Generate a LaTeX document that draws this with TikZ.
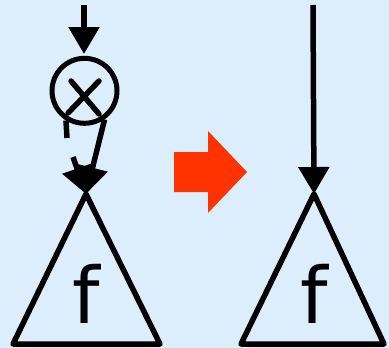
\documentclass[tikz,border=0pt]{standalone}
\usepackage{fontspec}
\setmainfont{DejaVu Sans}
\usetikzlibrary{arrows.meta}
\definecolor{bg}{RGB}{220,238,252}
\definecolor{redarrow}{RGB}{255,51,0}
\begin{document}
\begin{tikzpicture}[x=1pt,y=-1pt,
  wire/.style={line width=5.5pt},
  arr/.style={-{Triangle[length=27pt,width=30pt]}},
  tri/.style={line width=5.5pt, line join=round},
  lbl/.style={font=\fontsize{78}{78}\selectfont, inner sep=0pt},
  mulnode/.style={circle, draw, line width=5pt, minimum size=65pt, inner sep=0pt}]
\fill[bg] (0,0) rectangle (389,348);
\useasboundingbox (0,0) rectangle (389,348);

% left side
\node[mulnode] (mul) at (84.5,90.8) {};
\draw[line width=5.5pt, line cap=round] (71,81) -- (99,114) (99,81) -- (68,113);
\coordinate (inA) at (84,5);
\coordinate (tipA) at (84,54);
\draw[wire, arr] (inA) -- (tipA);

\coordinate (apexL) at (86,194);
\coordinate (gapA) at (67,138);
\coordinate (gapB) at (73,157);
\draw[wire] (mul.-122) -- (gapA);
\draw[wire, arr] (gapB) -- (apexL);
\draw[wire, arr] (mul.-55) -- (apexL);

\coordinate (blL) at (13,344);
\coordinate (brL) at (160,344);
\draw[tri] (apexL) -- (blL) -- (brL) -- cycle;
\node[lbl] (fL) at (86,294) {f};

% red arrow
\fill[redarrow] (174,152) -- (208,152) -- (208,131) -- (247,172) -- (208,213) -- (208,192) -- (174,192) -- cycle;

% right side
\coordinate (inB) at (313,5);
\coordinate (apexR) at (314,194);
\draw[wire, arr] (inB) -- (apexR);
\coordinate (blR) at (241,344);
\coordinate (brR) at (384,344);
\draw[tri] (apexR) -- (blR) -- (brR) -- cycle;
\node[lbl] (fR) at (314,294) {f};
\end{tikzpicture}
\end{document}
